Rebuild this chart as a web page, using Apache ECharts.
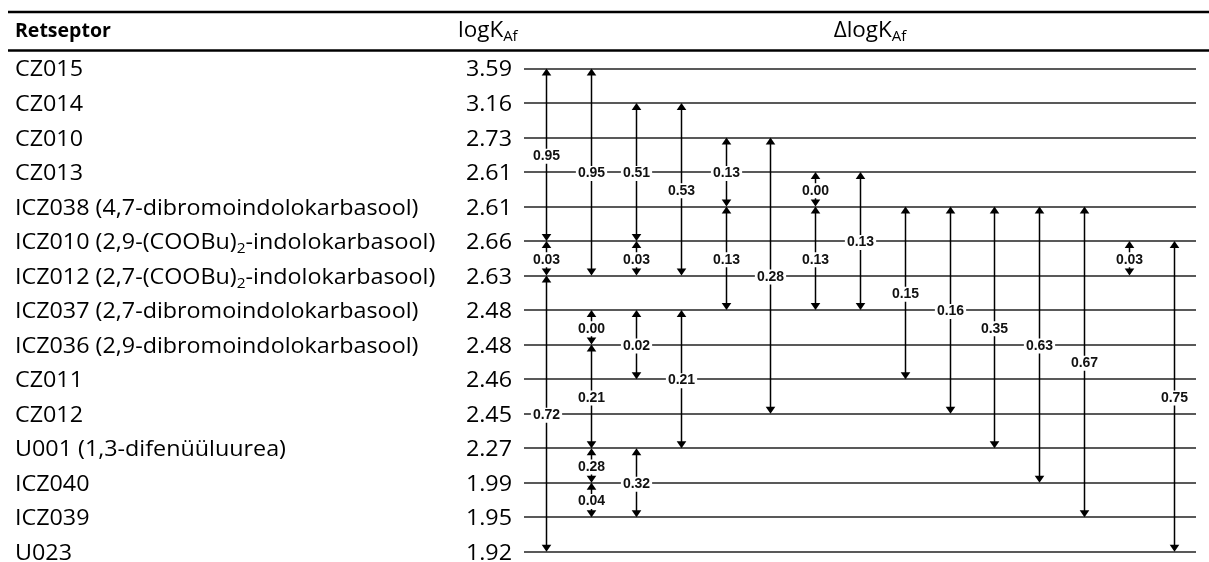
<!DOCTYPE html>
<html>
<head>
<meta charset="utf-8">
<script src="https://cdn.jsdelivr.net/npm/echarts@6/dist/echarts.min.js"></script>
<style>
html,body{margin:0;padding:0;background:#fff;}
#c{width:1209px;height:562px;}
</style>
</head>
<body>
<div id="c"></div>
<script>
// ---------- data ----------
const receptors = [
  'CZ015',
  'CZ014',
  'CZ010',
  'CZ013',
  'ICZ038 (4,7-dibromoindolokarbasool)',
  'ICZ010 (2,9-(COOBu)₂-indolokarbasool)',
  'ICZ012 (2,7-(COOBu)₂-indolokarbasool)',
  'ICZ037 (2,7-dibromoindolokarbasool)',
  'ICZ036 (2,9-dibromoindolokarbasool)',
  'CZ011',
  'CZ012',
  'U001 (1,3-difenüüluurea)',
  'ICZ040',
  'ICZ039',
  'U023'
];
const logK = [3.59, 3.16, 2.73, 2.61, 2.61, 2.66, 2.63, 2.48, 2.48, 2.46, 2.45, 2.27, 1.99, 1.95, 1.92];

// [column, fromRow, toRow, ΔlogK label]
const arrows = [
  [1, 0, 5, '0.95'], [1, 5, 6, '0.03'], [1, 6, 14, '0.72'],
  [2, 0, 6, '0.95'], [2, 7, 8, '0.00'], [2, 8, 11, '0.21'], [2, 11, 12, '0.28'], [2, 12, 13, '0.04'],
  [3, 1, 5, '0.51'], [3, 5, 6, '0.03'], [3, 7, 9, '0.02'], [3, 11, 13, '0.32'],
  [4, 1, 6, '0.53'], [4, 7, 11, '0.21'],
  [5, 2, 4, '0.13'], [5, 4, 7, '0.13'],
  [6, 2, 10, '0.28'],
  [7, 3, 4, '0.00'], [7, 4, 7, '0.13'],
  [8, 3, 7, '0.13'],
  [9, 4, 9, '0.15'],
  [10, 4, 10, '0.16'],
  [11, 4, 11, '0.35'],
  [12, 4, 12, '0.63'],
  [13, 4, 13, '0.67'],
  [14, 5, 6, '0.03'],
  [15, 5, 14, '0.75']
];

const headerReceptor = 'Retseptor';
const headerLogK = 'logK';
const headerDelta = 'ΔlogK';
const headerSub = 'Af';

// ---------- styles ----------
const BODY_FONT = 'Open Sans';
const BODY_SIZE = 21;
const SUB_SIZE = 14;
const LABEL_FONT = 'Liberation Sans';
const NAME_X = 15;          // left edge of receptor names
const VALUE_GAP = 12;       // gap between logK values and the row lines
const TEXT_STRETCH = 1.11;  // horizontal stretch of the table text

const richSub = {
  s: { fontFamily: BODY_FONT, fontSize: SUB_SIZE, fill: '#000', color: '#000', padding: [12, 0, 0, 0] }
};

function nameRich(n) {
  return n.replace(/₂/g, '{s|2}');
}

const chart = echarts.init(document.getElementById('c'), null, { renderer: 'canvas' });

function renderArrow(params, api) {
  const col = api.value(0);
  const r0 = api.value(1);
  const r1 = api.value(2);
  const label = arrows[params.dataIndex][3];
  const p0 = api.coord([col, r0]);
  const p1 = api.coord([col, r1]);
  const x = Math.round(p0[0]) + 0.5;
  const hw = 4.8, h = 7;
  const top = p0[1], bot = p1[1];
  return {
    type: 'group',
    children: [
      { type: 'line', shape: { x1: x, y1: top + 2, x2: x, y2: bot - 2 },
        style: { stroke: '#000', lineWidth: 1.5 } },
      { type: 'polygon', shape: { points: [[x, top], [x - hw, top + h], [x + hw, top + h]] },
        style: { fill: '#000' } },
      { type: 'polygon', shape: { points: [[x, bot], [x - hw, bot - h], [x + hw, bot - h]] },
        style: { fill: '#000' } },
      { type: 'text', x: x, y: (top + bot) / 2 + 1.5,
        style: { text: label, align: 'center', verticalAlign: 'middle',
          fontFamily: LABEL_FONT, fontWeight: 'bold', fontSize: 14, fill: '#111',
          backgroundColor: '#fff', padding: [1, 2, 0, 2] } }
    ]
  };
}

function renderRow(params, api) {
  const i = api.value(1);
  const p = api.coord([api.value(0), i]);
  const y = p[1] + 2;
  return {
    type: 'group',
    children: [
      { type: 'text', x: NAME_X, y: y, scaleX: TEXT_STRETCH,
        style: { text: nameRich(receptors[i]), fontFamily: BODY_FONT, fontSize: BODY_SIZE,
          fill: '#000', align: 'left', verticalAlign: 'middle', rich: richSub } },
      { type: 'text', x: p[0] - VALUE_GAP, y: y, scaleX: TEXT_STRETCH,
        style: { text: logK[i].toFixed(2), fontFamily: BODY_FONT, fontSize: BODY_SIZE,
          fill: '#000', align: 'right', verticalAlign: 'middle' } }
    ]
  };
}

const option = {
  animation: false,
  backgroundColor: '#fff',
  grid: { left: 524, right: 13, top: 68.5, bottom: 10.3 },
  xAxis: { type: 'value', min: 0.5, max: 15.5, show: false },
  yAxis: {
    type: 'value', min: 0, max: receptors.length - 1, interval: 1, inverse: true,
    axisLine: { show: false }, axisTick: { show: false }, axisLabel: { show: false },
    splitLine: { show: true, showMinLine: true, showMaxLine: true,
      lineStyle: { color: '#222', width: 1.7 } }
  },
  graphic: [
    { type: 'line', shape: { x1: 8, y1: 12, x2: 1209, y2: 12 }, style: { stroke: '#000', lineWidth: 2.4 } },
    { type: 'line', shape: { x1: 8, y1: 50.5, x2: 1209, y2: 50.5 }, style: { stroke: '#000', lineWidth: 2.4 } },
    { type: 'text', x: 15, y: 31,
      style: { text: headerReceptor, fontFamily: BODY_FONT, fontWeight: 'bold', fontSize: 19.5,
        fill: '#000', verticalAlign: 'middle', align: 'left' } },
    { type: 'text', x: 458, y: 31, scaleX: 1.07,
      style: { text: headerLogK + '{s|' + headerSub + '}', fontFamily: BODY_FONT, fontSize: BODY_SIZE,
        fill: '#000', verticalAlign: 'middle', align: 'left', rich: richSub } },
    { type: 'text', x: 870, y: 31, scaleX: 1.07,
      style: { text: headerDelta + '{s|' + headerSub + '}', fontFamily: BODY_FONT, fontSize: BODY_SIZE,
        fill: '#000', verticalAlign: 'middle', align: 'center', rich: richSub } }
  ],
  series: [
    {
      type: 'custom', name: 'rows',
      renderItem: renderRow,
      encode: { x: 0, y: 1 },
      data: receptors.map((_, i) => [0.5, i]),
      z: 5
    },
    {
      type: 'custom', name: 'ΔlogKAf',
      renderItem: renderArrow,
      encode: { x: 0, y: [1, 2] },
      data: arrows.map(a => [a[0], a[1], a[2]]),
      z: 10
    }
  ]
};

chart.setOption(option);
</script>
</body>
</html>
